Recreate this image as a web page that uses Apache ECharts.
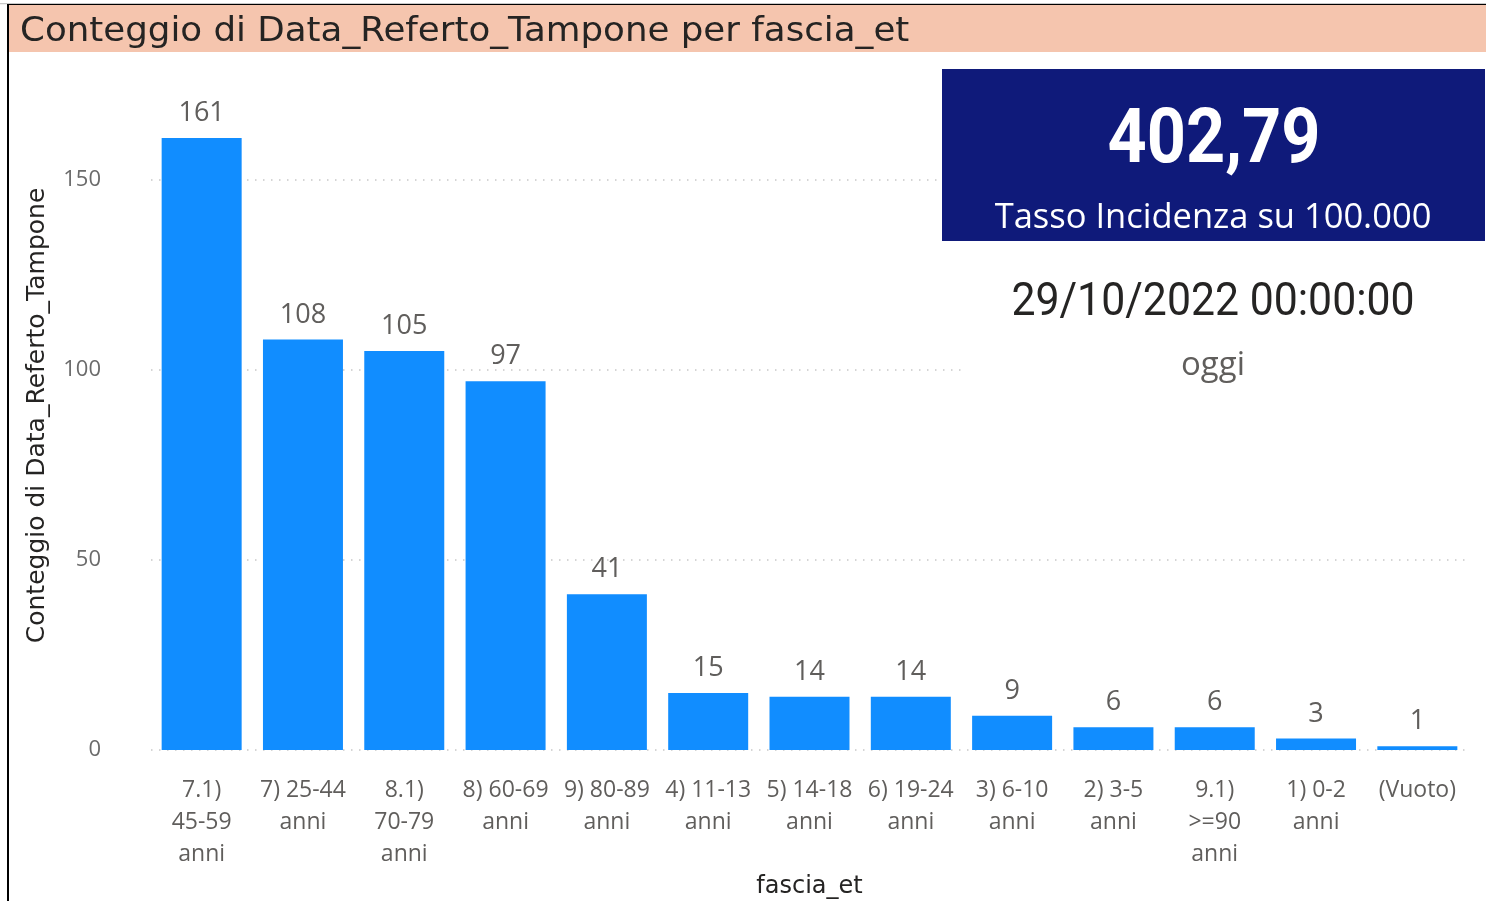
<!DOCTYPE html>
<html>
<head>
<meta charset="utf-8">
<script src="https://cdn.jsdelivr.net/npm/echarts@6/dist/echarts.min.js"></script>
<style>
  html, body { margin: 0; padding: 0; background: #fff; }
  #app { width: 1486px; height: 901px; }
</style>
</head>
<body>
<div id="app"></div>
<script>
const categories = ['7.1) 45-59 anni', '7) 25-44 anni', '8.1) 70-79 anni', '8) 60-69 anni', '9) 80-89 anni',
  '4) 11-13 anni', '5) 14-18 anni', '6) 19-24 anni', '3) 6-10 anni', '2) 3-5 anni',
  '9.1) >=90 anni', '1) 0-2 anni', '(Vuoto)']
const counts = [161, 108, 105, 97, 41, 15, 14, 14, 9, 6, 6, 3, 1]
const yMax = 176
const yStep = 50

const titleText = 'Conteggio di Data_Referto_Tampone per fascia_et'
const kpiValue = '402,79'
const kpiLabel = 'Tasso Incidenza su 100.000'
const dateValue = '29/10/2022 00:00:00'
const dateLabel = 'oggi'

const grey = '#605e5c'
const dark = '#252423'
const gridColor = '#c8c8c8'

// wrap category names on word boundaries, like the report does
function wrap (name) {
  const lines = []
  let cur = ''
  name.split(' ').forEach(w => {
    if (cur && (cur + ' ' + w).length > 8) {
      lines.push(cur)
      cur = w
    } else {
      cur = cur ? cur + ' ' + w : w
    }
  })
  lines.push(cur)
  return lines.join('\n')
}

const echart = echarts.init(document.getElementById('app'))

echart.setOption({
  animation: false,
  grid: { left: 151, right: 18, top: 81, bottom: 151, outerBoundsMode: 'none' },
  xAxis: {
    type: 'category',
    data: categories,
    name: 'fascia_et',
    nameLocation: 'middle',
    nameGap: 123,
    nameTextStyle: { fontFamily: 'DejaVu Sans', fontSize: 24, color: dark },
    axisLine: { show: false },
    axisTick: { show: false },
    axisLabel: {
      interval: 0,
      margin: 24,
      fontFamily: 'Open Sans',
      fontSize: 23,
      lineHeight: 32,
      color: grey,
      formatter: wrap
    }
  },
  yAxis: {
    type: 'value',
    min: 0,
    max: yMax,
    interval: yStep,
    name: 'Conteggio di Data_Referto_Tampone',
    nameLocation: 'middle',
    nameGap: 101,
    nameTextStyle: { fontFamily: 'DejaVu Sans', fontSize: 25, color: dark },
    axisLabel: {
      showMaxLabel: false,
      margin: 50,
      fontFamily: 'Open Sans',
      fontSize: 22,
      color: '#6b6b6b'
    },
    splitLine: {
      lineStyle: {
        // last line sits on the max (176), keep it invisible
        color: [gridColor, gridColor, gridColor, gridColor, 'rgba(0,0,0,0)'],
        width: 1.5,
        type: [1.5, 6.5]
      }
    }
  },
  series: [{
    type: 'bar',
    data: counts,
    barWidth: 80,
    itemStyle: { color: '#118dff' },
    label: {
      show: true,
      position: 'top',
      distance: 11,
      fontFamily: 'Open Sans',
      fontSize: 27,
      color: grey
    }
  }],
  graphic: [
    { type: 'rect', shape: { x: 0, y: 3, width: 1486, height: 1.3 }, style: { fill: '#c8c8c8' }, z: 100 },
    { type: 'rect', shape: { x: 7, y: 4, width: 1479, height: 1.3 }, style: { fill: '#000' }, z: 100 },
    { type: 'rect', shape: { x: 7, y: 4, width: 2, height: 897 }, style: { fill: '#000' }, z: 100 },
    { type: 'rect', shape: { x: 9, y: 5, width: 1477, height: 47 }, style: { fill: '#f5c5ae' }, z: 100 },
    {
      type: 'text', x: 20, y: 32, scaleX: 1.08, z: 101,
      style: { text: titleText, fontFamily: 'DejaVu Sans', fontSize: 33, fill: dark, verticalAlign: 'middle' }
    },
    // KPI card
    { type: 'rect', shape: { x: 942, y: 69, width: 543, height: 172 }, style: { fill: '#0f1a7a' }, z: 100 },
    {
      type: 'text', x: 1214, y: 143, scaleX: 0.9, z: 101,
      style: { text: kpiValue, fontFamily: 'Roboto', fontWeight: 'bold', fontSize: 76, fill: '#fff', align: 'center', verticalAlign: 'middle' }
    },
    {
      type: 'text', x: 1213, y: 218, z: 101,
      style: { text: kpiLabel, fontFamily: 'Open Sans', fontSize: 34.5, fill: '#fff', align: 'center', verticalAlign: 'middle' }
    },
    // date card
    { type: 'rect', shape: { x: 965, y: 250, width: 500, height: 145 }, style: { fill: '#fff' }, z: 100 },
    {
      type: 'text', x: 1213, y: 303, scaleX: 0.93, z: 101,
      style: { text: dateValue, fontFamily: 'Roboto', fontSize: 46, fill: dark, align: 'center', verticalAlign: 'middle' }
    },
    {
      type: 'text', x: 1213, y: 366, z: 101,
      style: { text: dateLabel, fontFamily: 'Open Sans', fontSize: 33, fill: grey, align: 'center', verticalAlign: 'middle' }
    }
  ]
})
</script>
</body>
</html>
